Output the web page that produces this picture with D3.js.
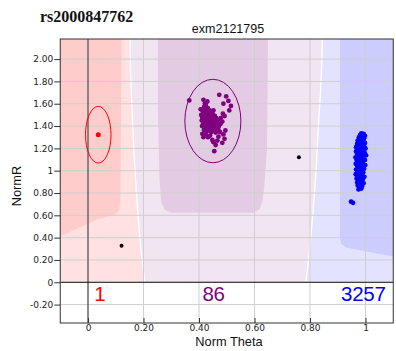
<!DOCTYPE html>
<html><head><meta charset="utf-8">
<script src="https://cdn.jsdelivr.net/npm/d3@7"></script>
<style>body{margin:0;background:#fff} svg{display:block}</style>
</head><body><svg id="chart" width="396" height="351"></svg>
<script>
// ---- data ----
const snpName = "rs2000847762";
const probeName = "exm2121795";
const xTickValues = [0, 0.2, 0.4, 0.6, 0.8, 1];
const xTickLabels = ["0", "0.20", "0.40", "0.60", "0.80", "1"];
const yTickValues = [-0.2, 0, 0.2, 0.4, 0.6, 0.8, 1, 1.2, 1.4, 1.6, 1.8, 2.0];
const yTickLabels = ["-0.20", "0", "0.20", "0.40", "0.60", "0.80", "1", "1.20", "1.40", "1.60", "1.80", "2.00"];

const clusterNames = ["AA", "AB", "BB"];
const clusterCounts = [1, 86, 3257];

// genotype points: [Norm Theta, Norm R]
const aaPoints = [[0.037, 1.322]];
const abPoints = [
  [0.365,1.630],[0.473,1.680],[0.498,1.665],[0.506,1.625],[0.488,1.600],[0.515,1.580],
  [0.509,1.540],[0.486,1.510],[0.478,1.470],[0.416,1.635],[0.421,1.600],[0.430,1.620],
  [0.406,1.550],[0.418,1.570],[0.425,1.580],[0.432,1.560],[0.414,1.530],[0.422,1.545],
  [0.438,1.540],[0.428,1.520],[0.445,1.525],[0.416,1.505],[0.434,1.500],[0.450,1.505],
  [0.424,1.490],[0.441,1.485],[0.457,1.490],[0.412,1.475],[0.430,1.470],[0.447,1.465],
  [0.462,1.470],[0.420,1.455],[0.437,1.450],[0.453,1.448],[0.468,1.452],[0.426,1.435],
  [0.443,1.430],[0.459,1.432],[0.415,1.420],[0.433,1.415],[0.450,1.412],[0.466,1.418],
  [0.424,1.400],[0.440,1.398],[0.456,1.395],[0.472,1.400],[0.430,1.382],[0.447,1.378],
  [0.462,1.380],[0.418,1.365],[0.437,1.362],[0.454,1.360],[0.470,1.365],[0.444,1.345],
  [0.460,1.342],[0.427,1.350],[0.439,1.520],[0.452,1.540],[0.408,1.500],[0.410,1.450],
  [0.411,1.400],[0.435,1.440],[0.448,1.450],[0.428,1.455],[0.441,1.410],[0.455,1.420],
  [0.412,1.330],[0.416,1.300],[0.432,1.300],[0.448,1.275],[0.460,1.230],[0.455,1.175],
  [0.492,1.285],[0.488,1.325],[0.470,1.305],[0.484,1.250],[0.476,1.345],[0.464,1.395],
  [0.478,1.420],[0.440,1.315],[0.452,1.255],[0.466,1.270],[0.424,1.325],[0.495,1.360],
  [0.484,1.440],[0.492,1.490]
];
const bbPoints = [
  [0.985,1.335],[0.993,1.330],[0.980,1.318],[0.998,1.312],[0.988,1.305],[0.976,1.295],
  [0.995,1.290],[0.984,1.280],[0.972,1.270],[0.992,1.265],[0.981,1.255],[0.998,1.248],
  [0.970,1.240],[0.987,1.235],[0.976,1.222],[0.995,1.218],[0.966,1.210],[0.984,1.205],
  [1.000,1.198],[0.973,1.190],[0.990,1.182],[0.966,1.172],[0.980,1.168],[0.997,1.160],
  [0.970,1.150],[0.986,1.145],[1.002,1.138],[0.975,1.130],[0.964,1.120],[0.992,1.118],
  [0.980,1.108],[0.968,1.098],[0.998,1.095],[0.985,1.088],[0.972,1.078],[0.990,1.070],
  [0.965,1.062],[0.980,1.055],[0.999,1.050],[0.970,1.042],[0.988,1.035],[0.976,1.025],
  [0.995,1.018],[0.966,1.010],[0.983,1.002],[0.972,0.992],[0.992,0.985],[0.978,0.975],
  [0.965,0.968],[0.988,0.962],[0.974,0.952],[0.996,0.945],[0.982,0.938],[0.968,0.930],
  [0.990,0.922],[0.976,0.912],[0.985,0.902],[0.970,0.895],[0.993,0.888],[0.980,0.878],
  [0.972,0.868],[0.988,0.862],[0.978,0.850],[0.985,0.840],[0.975,0.832],
  [0.948,0.722],[0.955,0.712]
];
const noCallPoints = [[0.121, 0.328], [0.760, 1.120]];

// cluster ellipses: centre and radii in data units
const ellipseCentres = [[0.037, 1.322], [0.450, 1.445]];
const ellipseRadii = [[0.046, 0.254], [0.101, 0.374]];

// shaded call regions (polygons in data units)
const aaOuterRegion = [[-0.2,2.3],[0.151,2.3],[0.153,1.9],[0.158,1.6],[0.165,1.2],[0.172,0.9],
  [0.180,0.6],[0.190,0.3],[0.205,0],[-0.2,0]];
const aaInnerRegion = [[-0.2,2.3],[0.122,2.3],[0.118,1.2],[0.117,0.72],[0.112,0.645],[0.095,0.605],
  [0.03,0.56],[-0.03,0.49],[-0.2,0.30]];
const abInnerRegion = [[0.252,2.3],[0.649,2.3],[0.645,1.2],[0.635,0.85],[0.628,0.72],[0.618,0.655],
  [0.595,0.622],[0.300,0.622],[0.276,0.652],[0.264,0.72],[0.258,0.9],[0.252,1.5]];
const bbOuterRegion = [[0.845,2.3],[0.843,2.0],[0.838,1.7],[0.830,1.4],[0.822,1.0],[0.810,0.6],
  [0.795,0.2],[0.785,0],[1.2,0],[1.2,2.3]];
const bbInnerRegion = [[0.908,2.3],[0.908,0.40],[0.912,0.345],[0.930,0.312],[1.2,0.18],[1.2,2.3]];

// ---- layout ----
const svg = d3.select("#chart");
const plotLeft = 60.25, plotRight = 393.25, plotTop = 39, plotBottom = 323;
const x = d3.scaleLinear().domain([-0.1, 1.1]).range([plotLeft, plotRight]);
const y = d3.scaleLinear().domain([-0.365, 2.18]).range([plotBottom, plotTop]);

const colors = {AA: "#ff0000", AB: "#800080", BB: "#0000ff"};

svg.append("defs").append("clipPath").attr("id", "plotClip")
  .append("rect").attr("x", plotLeft).attr("y", plotTop)
  .attr("width", plotRight - plotLeft).attr("height", plotBottom - plotTop);

const plot = svg.append("g").attr("clip-path", "url(#plotClip)");
const line = d3.line().x(d => x(d[0])).y(d => y(d[1]));

// background of the called area
plot.append("rect").attr("x", x(-0.2)).attr("y", y(2.3))
  .attr("width", x(1.2) - x(-0.2)).attr("height", y(0) - y(2.3))
  .attr("fill", "#f1e5f1");
plot.append("path").attr("d", line(abInnerRegion) + "Z").attr("fill", "#e3cbe4");
plot.append("path").attr("d", line(aaOuterRegion) + "Z").attr("fill", "#ffe1e1")
  .attr("stroke", "#fff").attr("stroke-width", 1.3);
plot.append("path").attr("d", line(aaInnerRegion) + "Z").attr("fill", "#ffcccc");
plot.append("path").attr("d", line(bbOuterRegion) + "Z").attr("fill", "#e3e3ff")
  .attr("stroke", "#fff").attr("stroke-width", 1.3);
plot.append("path").attr("d", line(bbInnerRegion) + "Z").attr("fill", "#ccccff");
// white band below zero
plot.append("rect").attr("x", plotLeft).attr("y", y(0))
  .attr("width", plotRight - plotLeft).attr("height", plotBottom - y(0)).attr("fill", "#fff");

// grid
plot.append("g").selectAll("line").data(xTickValues).join("line")
  .attr("x1", d => x(d)).attr("x2", d => x(d)).attr("y1", plotTop).attr("y2", plotBottom)
  .attr("stroke", "#cfcfcf").attr("stroke-width", 1);
plot.append("g").selectAll("line").data(yTickValues).join("line")
  .attr("x1", plotLeft).attr("x2", plotRight).attr("y1", d => y(d)).attr("y2", d => y(d))
  .attr("stroke", "#cfcfcf").attr("stroke-width", 1);

// zero lines
plot.append("line").attr("x1", x(0)).attr("x2", x(0)).attr("y1", plotTop).attr("y2", plotBottom)
  .attr("stroke", "#333").attr("stroke-width", 1);
plot.append("line").attr("x1", plotLeft).attr("x2", plotRight).attr("y1", y(0)).attr("y2", y(0))
  .attr("stroke", "#111").attr("stroke-width", 1);

// ellipses
const ellipseColors = [colors.AA, colors.AB];
plot.append("g").selectAll("ellipse").data(ellipseCentres).join("ellipse")
  .attr("cx", d => x(d[0])).attr("cy", d => y(d[1]))
  .attr("rx", (d, i) => x(ellipseRadii[i][0]) - x(0))
  .attr("ry", (d, i) => y(0) - y(ellipseRadii[i][1]))
  .attr("fill", "none").attr("stroke", (d, i) => ellipseColors[i]).attr("stroke-width", 1);

// points
function dots(data, color, r) {
  plot.append("g").selectAll("circle").data(data).join("circle")
    .attr("cx", d => x(d[0])).attr("cy", d => y(d[1])).attr("r", r).attr("fill", color);
}
dots(noCallPoints, "#000", 2);
dots(aaPoints, colors.AA, 2.5);
dots(abPoints, colors.AB, 2.4);
dots(bbPoints, colors.BB, 2.4);

// cluster counts
const clusterPoints = [aaPoints, abPoints, bbPoints];
plot.append("g").selectAll("text").data(clusterNames).join("text")
  .attr("x", (d, i) => x(d3.mean(clusterPoints[i], p => p[0])) + (i === 2 ? 3 : 1.5))
  .attr("y", y(-0.172))
  .attr("text-anchor", "middle")
  .attr("font-family", "Liberation Sans, Arial, sans-serif")
  .attr("font-size", 20.5).attr("letter-spacing", -0.3)
  .attr("fill", d => colors[d])
  .text((d, i) => clusterCounts[i]);

// frame
svg.append("rect").attr("x", plotLeft).attr("y", plotTop)
  .attr("width", plotRight - plotLeft).attr("height", plotBottom - plotTop)
  .attr("fill", "none").attr("stroke", "#333").attr("stroke-width", 1);

// axes
const font = "Liberation Sans, Arial, sans-serif";
const tickFont = "DejaVu Sans, Verdana, sans-serif";
const yAxis = d3.axisLeft(y).tickValues(yTickValues).tickSize(6).tickPadding(1)
  .tickFormat((d, i) => yTickLabels[i]);
const gy = svg.append("g").attr("transform", `translate(${plotLeft},0)`).call(yAxis);
gy.select(".domain").remove();
gy.selectAll("line").attr("stroke", "#333");
gy.selectAll("text").attr("font-family", tickFont).attr("font-size", 9).attr("fill", "#222");

const xAxis = d3.axisBottom(x).tickValues(xTickValues).tickSize(-5).tickPadding(2)
  .tickFormat((d, i) => xTickLabels[i]);
const gx = svg.append("g").attr("transform", `translate(0,${plotBottom})`).call(xAxis);
gx.select(".domain").remove();
gx.selectAll("line").attr("stroke", "#333");
gx.selectAll("text").attr("font-family", tickFont).attr("font-size", 9).attr("fill", "#222");

// titles
svg.append("text").attr("x", 40).attr("y", 22)
  .attr("font-family", "Liberation Serif, Times New Roman, serif")
  .attr("font-weight", "bold").attr("font-size", 16).attr("fill", "#111")
  .text(snpName);
svg.append("text").attr("x", 228).attr("y", 32.5).attr("text-anchor", "middle")
  .attr("font-family", font).attr("font-size", 12.5).attr("fill", "#111")
  .text(probeName);
svg.append("text").attr("x", 229).attr("y", 345.5).attr("text-anchor", "middle")
  .attr("font-family", font).attr("font-size", 12.8).attr("fill", "#111")
  .text("Norm Theta");
svg.append("text").attr("transform", "translate(21,186) rotate(-90)")
  .attr("text-anchor", "middle")
  .attr("font-family", font).attr("font-size", 12.8).attr("fill", "#111")
  .text("NormR");
</script></body></html>
